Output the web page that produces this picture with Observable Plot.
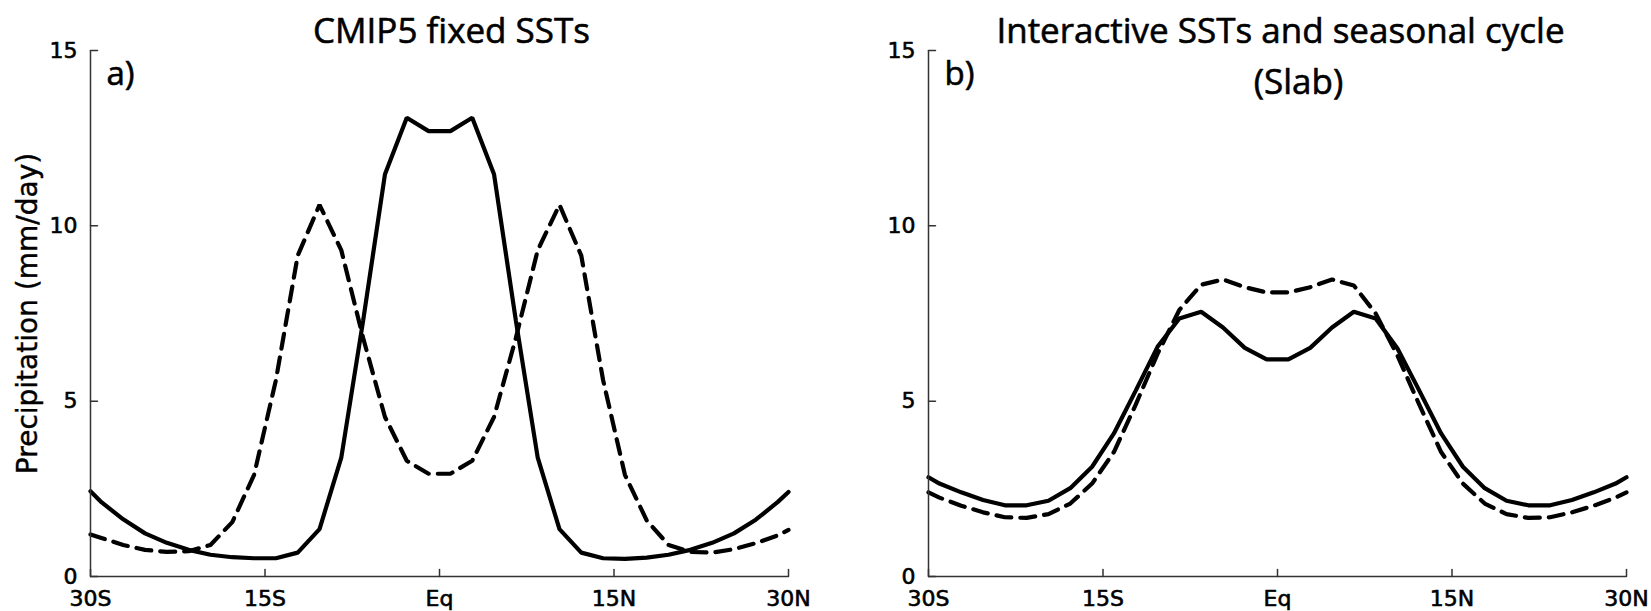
<!DOCTYPE html>
<html>
<head>
<meta charset="utf-8">
<script src="https://cdn.jsdelivr.net/npm/d3@7"></script>
<script src="https://cdn.jsdelivr.net/npm/@observablehq/plot@0.6"></script>
<style>
  html, body { margin: 0; padding: 0; background: white; }
  #wrap { position: relative; width: 1651px; height: 611px; overflow: hidden; background: white; }
  #pa { position: absolute; left: 0; top: 0; }
  #pb { position: absolute; left: 830px; top: 0; }
</style>
</head>
<body>
<div id="wrap"><div id="pa"></div><div id="pb"></div></div>
<script>
// Latitudes (model grid, plus the plot edges)
const lat = [-30, -29.0625, -27.1875, -25.3125, -23.4375, -21.5625, -19.6875, -17.8125, -15.9375,
  -14.0625, -12.1875, -10.3125, -8.4375, -6.5625, -4.6875, -2.8125, -0.9375,
  0.9375, 2.8125, 4.6875, 6.5625, 8.4375, 10.3125, 12.1875, 14.0625,
  15.9375, 17.8125, 19.6875, 21.5625, 23.4375, 25.3125, 27.1875, 29.0625, 30];

// Panel a) CMIP5 fixed SSTs
const aSolid = [2.43, 2.12, 1.63, 1.23, 0.96, 0.76, 0.62, 0.55, 0.52,
  0.52, 0.68, 1.35, 3.4, 7.3, 11.47, 13.08, 12.7,
  12.7, 13.08, 11.47, 7.3, 3.4, 1.35, 0.68, 0.52,
  0.5, 0.54, 0.62, 0.76, 0.96, 1.23, 1.62, 2.12, 2.41];
const aDashed = [1.2, 1.1, 0.9, 0.76, 0.7, 0.72, 0.9, 1.55, 2.9,
  5.6, 9.15, 10.6, 9.3, 6.8, 4.55, 3.3, 2.93,
  2.93, 3.3, 4.55, 6.8, 9.3, 10.6, 9.15, 5.6,
  2.9, 1.6, 0.9, 0.7, 0.68, 0.78, 0.95, 1.17, 1.33];

// Panel b) Interactive SSTs and seasonal cycle (Slab)
const bSolid = [2.83, 2.65, 2.4, 2.18, 2.03, 2.03, 2.16, 2.52, 3.13,
  4.08, 5.3, 6.55, 7.36, 7.55, 7.1, 6.52, 6.19,
  6.19, 6.52, 7.1, 7.55, 7.36, 6.5, 5.3, 4.08,
  3.13, 2.52, 2.16, 2.03, 2.03, 2.18, 2.4, 2.65, 2.83];
const bDashed = [2.4, 2.25, 2.02, 1.83, 1.69, 1.67, 1.78, 2.08, 2.65,
  3.55, 4.9, 6.35, 7.6, 8.32, 8.47, 8.25, 8.1,
  8.1, 8.25, 8.47, 8.3, 7.5, 6.3, 4.9, 3.55,
  2.65, 2.08, 1.78, 1.67, 1.69, 1.83, 2.02, 2.25, 2.4];

const xTicks = [-30, -15, 0, 15, 30];
const xTickLabels = ["30S", "15S", "Eq", "15N", "30N"];
const yTicks = [0, 5, 10, 15];
const yTickLabels = ["0", "5", "10", "15"];

const titleA = "CMIP5 fixed SSTs";
const titleB1 = "Interactive SSTs and seasonal cycle";
const titleB2 = "(Slab)";
const yLabel = "Precipitation (mm/day)";

const tickShape = { draw(ctx, l) { ctx.moveTo(0, 0); ctx.lineTo(0, -l); } };
const axisColor = "#333";
const titleFont = "Open Sans";
const tickFont = "DejaVu Sans";
const textStroke = { stroke: "black", strokeWidth: 0.6 };

function rows(values) { return lat.map((x, i) => ({ x, y: values[i] })); }

function panel({ width, marginLeft, marginRight, solid, dashed, letter, titles, showYLabel }) {
  const marks = [
    Plot.line(rows(dashed), { x: "x", y: "y", stroke: "black", strokeWidth: 4.2, strokeDasharray: "15,9", strokeLinejoin: "miter" }),
    Plot.line(rows(solid), { x: "x", y: "y", stroke: "black", strokeWidth: 4.2, strokeLinejoin: "miter" }),
    Plot.ruleY([0], { stroke: axisColor, strokeWidth: 1.5 }),
    Plot.ruleX([-30], { stroke: axisColor, strokeWidth: 1.5 }),
    Plot.vector(xTicks, { x: d => d, frameAnchor: "bottom", length: 7, rotate: 0, anchor: "start", shape: tickShape, stroke: axisColor, strokeWidth: 1.5 }),
    Plot.vector(yTicks, { y: d => d, frameAnchor: "left", length: 7, rotate: 90, anchor: "start", shape: tickShape, stroke: axisColor, strokeWidth: 1.5 }),
    Plot.text(xTicks, { x: d => d, frameAnchor: "bottom", dy: 14, lineAnchor: "top", textAnchor: "middle", text: d => xTickLabels[xTicks.indexOf(d)], fontSize: 22, fontFamily: tickFont, fill: "black", ...textStroke }),
    Plot.text(yTicks, { y: d => d, frameAnchor: "left", dx: -13, lineAnchor: "middle", textAnchor: "end", text: d => yTickLabels[yTicks.indexOf(d)], fontSize: 22, fontFamily: tickFont, fill: "black", ...textStroke }),
    Plot.text([letter], { frameAnchor: "top-left", dx: 16, dy: 34, textAnchor: "start", lineAnchor: "bottom", fontSize: 33, fontFamily: titleFont, fill: "black", ...textStroke })
  ];
  titles.forEach(t => marks.push(Plot.text([t.text], { frameAnchor: "top", dx: t.dx, dy: t.dy, lineAnchor: "bottom", textAnchor: "middle", fontSize: 35, fontFamily: titleFont, fill: "black", ...textStroke })));
  if (showYLabel) {
    marks.push(Plot.text([yLabel], { frameAnchor: "left", dx: -62, rotate: -90, lineAnchor: "middle", textAnchor: "middle", fontSize: 28, fontFamily: tickFont, fill: "black", stroke: "black", strokeWidth: 0.4 }));
  }
  return Plot.plot({
    width, height: 611,
    marginLeft, marginRight, marginTop: 50, marginBottom: 35,
    x: { domain: [-30, 30], axis: null },
    y: { domain: [0, 15], axis: null },
    style: { fontFamily: tickFont, fontSize: "22px", color: "black", background: "white", overflow: "visible" },
    marks
  });
}

document.getElementById("pa").appendChild(panel({
  width: 830, marginLeft: 90, marginRight: 42, solid: aSolid, dashed: aDashed, letter: "a)",
  titles: [{ text: titleA, dx: 12, dy: -8 }], showYLabel: true
}));
document.getElementById("pb").appendChild(panel({
  width: 821, marginLeft: 98, marginRight: 25, solid: bSolid, dashed: bDashed, letter: "b)",
  titles: [{ text: titleB1, dx: 3, dy: -8 }, { text: titleB2, dx: 21, dy: 43 }], showYLabel: false
}));
</script>
</body>
</html>
